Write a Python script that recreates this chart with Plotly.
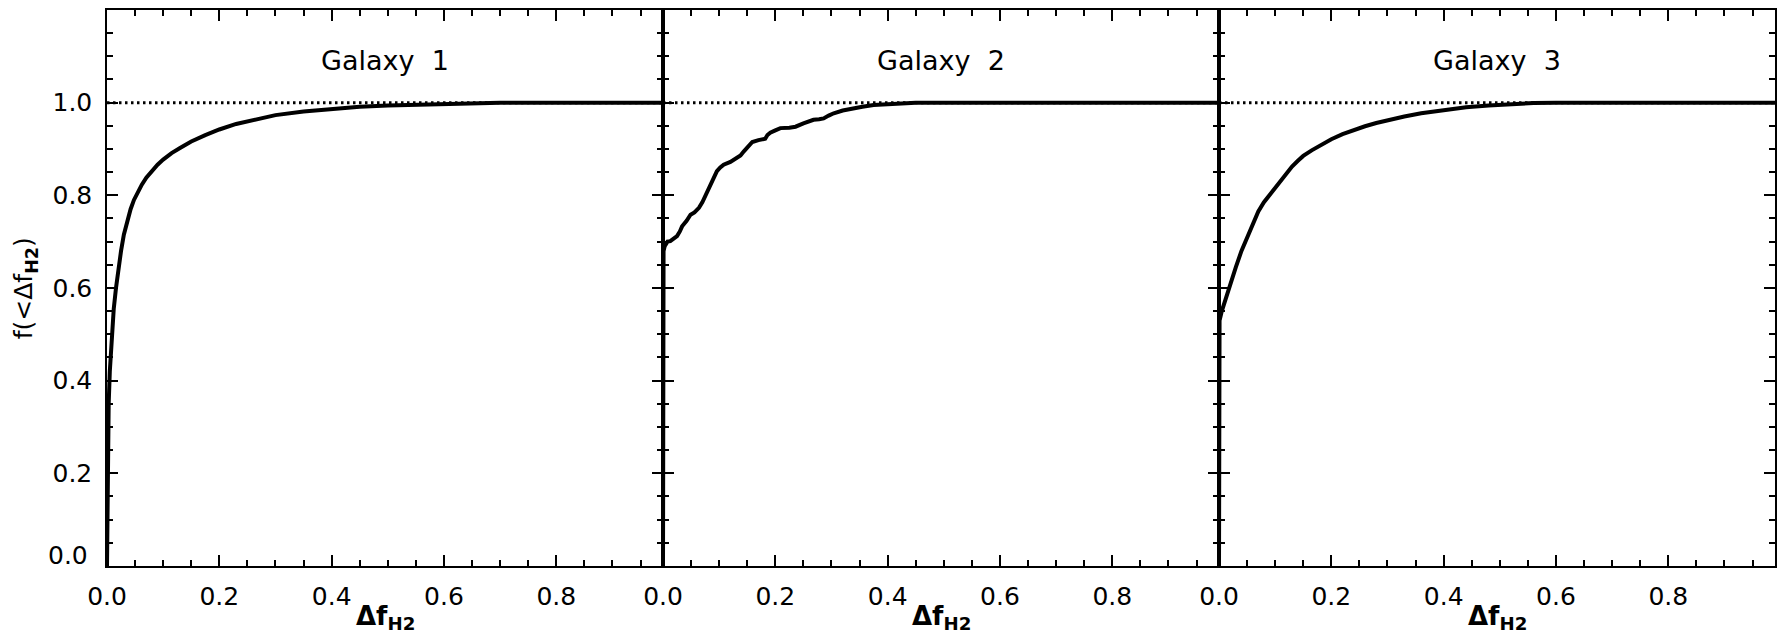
import plotly.graph_objects as go
from plotly.subplots import make_subplots

# ---- data ----
panel_titles = ["Galaxy\u00a0\u00a01", "Galaxy\u00a0\u00a02", "Galaxy\u00a0\u00a03"]

x1 = [0, 0.001, 0.002, 0.003, 0.005, 0.008, 0.012, 0.016, 0.020, 0.025, 0.030, 0.036,
      0.042, 0.048, 0.055, 0.062, 0.070, 0.080, 0.090, 0.100, 0.115, 0.130, 0.150, 0.175,
      0.200, 0.230, 0.260, 0.300, 0.350, 0.400, 0.450, 0.500, 0.550, 0.600, 0.650, 0.700, 0.99]
y1 = [0, 0.15, 0.28, 0.35, 0.42, 0.49, 0.555, 0.60, 0.64, 0.68, 0.715, 0.745,
      0.77, 0.79, 0.808, 0.823, 0.838, 0.853, 0.866, 0.877, 0.891, 0.902, 0.916, 0.930,
      0.942, 0.954, 0.963, 0.973, 0.981, 0.987, 0.991, 0.994, 0.996, 0.998, 0.999, 1.0, 1.0]

x2 = [0, 0.001, 0.003, 0.008, 0.013, 0.020, 0.025, 0.030, 0.034, 0.042, 0.049, 0.056,
      0.064, 0.070, 0.079, 0.088, 0.096, 0.102, 0.108, 0.120, 0.132, 0.138, 0.144, 0.152,
      0.159, 0.170, 0.182, 0.186, 0.191, 0.200, 0.209, 0.225, 0.236, 0.250, 0.268, 0.278,
      0.286, 0.295, 0.304, 0.320, 0.339, 0.355, 0.375, 0.400, 0.434, 0.450, 0.99]
y2 = [0, 0.68, 0.69, 0.70, 0.701, 0.708, 0.712, 0.722, 0.733, 0.745, 0.758, 0.763,
      0.773, 0.785, 0.809, 0.830, 0.852, 0.860, 0.866, 0.872, 0.880, 0.886, 0.895, 0.905,
      0.915, 0.919, 0.922, 0.930, 0.935, 0.940, 0.945, 0.946, 0.948, 0.955, 0.963, 0.964,
      0.966, 0.972, 0.977, 0.983, 0.988, 0.991, 0.995, 0.997, 0.998, 1.0, 1.0]

x3 = [0, 0.001, 0.005, 0.010, 0.015, 0.020, 0.030, 0.040, 0.050, 0.060, 0.070, 0.080,
      0.090, 0.100, 0.110, 0.120, 0.130, 0.140, 0.150, 0.165, 0.180, 0.200, 0.220, 0.240,
      0.260, 0.280, 0.300, 0.330, 0.360, 0.400, 0.440, 0.480, 0.520, 0.560, 0.600, 0.99]
y3 = [0, 0.53, 0.55, 0.57, 0.59, 0.61, 0.645, 0.68, 0.71, 0.74, 0.765, 0.785,
      0.80, 0.815, 0.833, 0.848, 0.862, 0.874, 0.885, 0.897, 0.908, 0.921, 0.932, 0.941,
      0.949, 0.956, 0.962, 0.97, 0.977, 0.984, 0.99, 0.994, 0.997, 0.999, 1.0, 1.0]

ref_x = [0, 0.99]
ref_y = [1.0, 1.0]

ytick_vals = [0.2, 0.4, 0.6, 0.8, 1.0]
ytick_text = ["0.2", "0.4", "0.6", "0.8", "1.0"]
ytick_zero = "0.0"

xs = [x1, x2, x3]
ys = [y1, y2, y3]

FONT = "DejaVu Sans"
TICKFONT = dict(family=FONT, size=25, color="black")

fig = make_subplots(rows=1, cols=3, shared_yaxes=True, horizontal_spacing=0)

for i in range(3):
    fig.add_trace(go.Scatter(x=ref_x, y=ref_y, mode="lines",
                             line=dict(color="black", width=3, dash="2.5px,3.5px"),
                             showlegend=False, hoverinfo="skip"), row=1, col=i + 1)
    fig.add_trace(go.Scatter(x=xs[i], y=ys[i], mode="lines",
                             line=dict(color="black", width=4),
                             showlegend=False), row=1, col=i + 1)
    fig.add_annotation(x=0.495, y=1.092, xref=f"x{'' if i == 0 else i + 1}",
                       yref=f"y{'' if i == 0 else i + 1}", text=panel_titles[i],
                       showarrow=False, xanchor="center", yanchor="middle",
                       font=dict(family=FONT, size=27, color="black"))
    fig.add_annotation(x=(i + 0.5) / 3, y=-0.093, xref="paper", yref="paper",
                       text="<b>Δf<sub>H2</sub></b>", showarrow=False,
                       xanchor="center", yanchor="middle",
                       font=dict(family=FONT, size=26, color="black"))

axis_common = dict(showline=True, linecolor="black", linewidth=1.5, mirror="allticks",
                   ticks="inside", ticklen=11, tickwidth=1.5, tickcolor="black",
                   showgrid=False, zeroline=False, tickformat=".1f",
                   tickfont=TICKFONT,
                   minor=dict(ticks="inside", ticklen=6, tickwidth=1.5,
                              tickcolor="black", dtick=0.05, showgrid=False))

for i in range(3):
    fig.update_xaxes(range=[0, 0.99], dtick=0.2, tick0=0, ticklabelstandoff=7,
                     **axis_common, row=1, col=i + 1)
    fig.update_yaxes(range=[0, 1.1999], tickmode="array",
                     tickvals=[0] + ytick_vals, ticktext=[""] + ytick_text,
                     showticklabels=(i == 0), ticklabelstandoff=8,
                     **axis_common, row=1, col=i + 1)

# IDL-style raised "0.0" label on the y axis
fig.add_annotation(x=0, y=0, xref="paper", yref="y", text=ytick_zero,
                   showarrow=False, xanchor="right", yanchor="middle",
                   xshift=-17, yshift=11, font=TICKFONT)

fig.add_annotation(x=-0.049, y=0.5, xref="paper", yref="paper",
                   text="f(&lt;Δf<sub><b>H2</b></sub>)", textangle=-90,
                   showarrow=False, xanchor="center", yanchor="middle",
                   font=dict(family=FONT, size=25, color="black"))

fig.update_layout(width=1785, height=635, plot_bgcolor="white", paper_bgcolor="white",
                  margin=dict(l=107, r=8, t=9, b=69), showlegend=False)

fig.write_html("out.html")
